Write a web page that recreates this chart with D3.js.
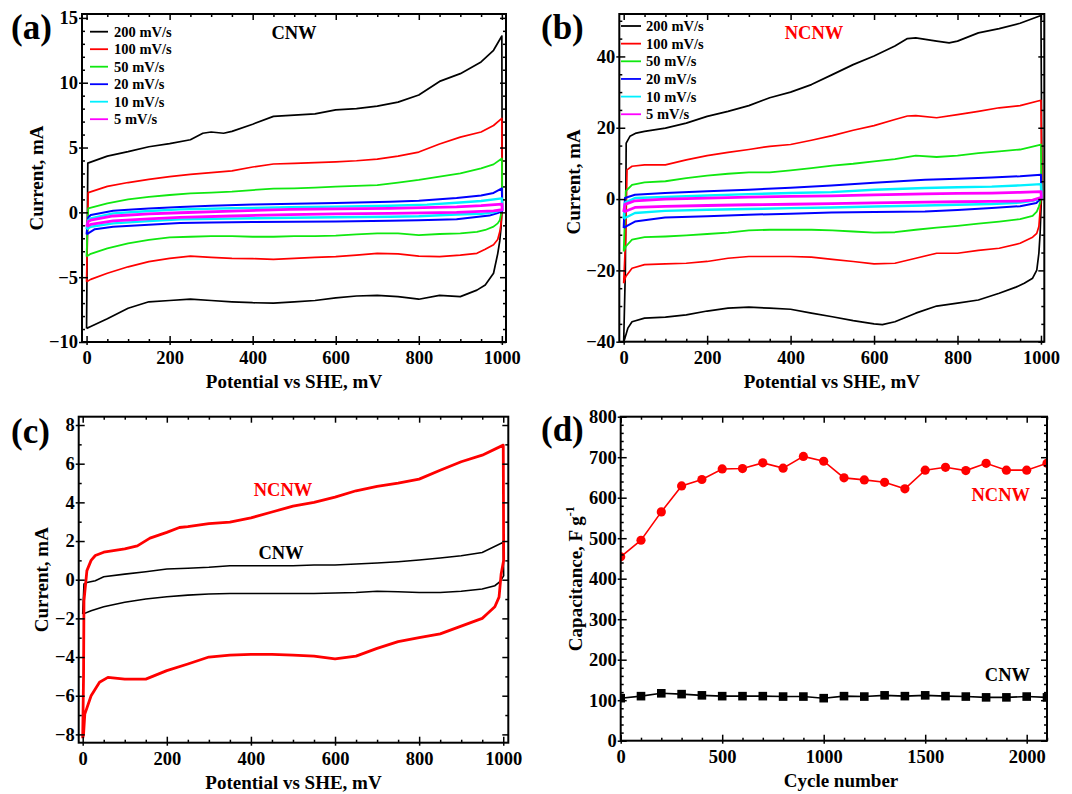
<!DOCTYPE html>
<html>
<head>
<meta charset="utf-8">
<script src="https://cdn.jsdelivr.net/npm/d3@7"></script>
<style>
  body { margin: 0; background: #fff; }
  svg { display: block; }
</style>
</head>
<body>
<script>
// ---------- data ----------
// panel (a): CNW cyclic voltammograms, [mV, mA]
const cnw200 = [[0,-8.95],[3,3.8],[50,4.34],[100,4.68],[150,5.06],[200,5.3],[250,5.6],[280,6.1],[300,6.2],[330,6.1],[350,6.25],[400,6.8],[450,7.4],[500,7.5],[550,7.6],[600,7.9],[650,8.0],[700,8.2],[750,8.5],[800,9.05],[850,10.1],[900,10.7],[950,11.6],[980,12.5],[1000,13.6],[1001,0.5],[998,-1.2],[995,-2.2],[990,-3.2],[980,-4.7],[960,-5.6],[940,-6.0],[900,-6.5],[850,-6.4],[800,-6.7],[750,-6.5],[700,-6.4],[650,-6.45],[600,-6.6],[550,-6.8],[500,-6.9],[450,-7.0],[400,-6.97],[350,-6.9],[300,-6.8],[250,-6.7],[200,-6.8],[150,-6.9],[100,-7.4],[50,-8.2],[10,-8.8],[0,-8.95]];
const cnw100 = [[0,-5.35],[4,1.52],[50,2.0],[100,2.3],[150,2.55],[200,2.75],[250,2.93],[300,3.06],[350,3.2],[400,3.5],[450,3.73],[500,3.78],[550,3.83],[600,3.9],[650,3.98],[700,4.1],[750,4.34],[800,4.65],[850,5.27],[900,5.8],[950,6.2],[980,6.7],[1000,7.25],[1001,0.5],[998,-0.9],[995,-1.5],[990,-2.1],[980,-2.5],[960,-2.85],[940,-3.16],[900,-3.3],[850,-3.42],[800,-3.37],[750,-3.2],[700,-3.16],[650,-3.3],[600,-3.42],[550,-3.47],[500,-3.55],[450,-3.62],[400,-3.57],[350,-3.55],[300,-3.47],[250,-3.37],[200,-3.55],[150,-3.8],[100,-4.2],[50,-4.7],[10,-5.17],[0,-5.35]];
const cnw50 = [[0,-3.4],[4,0.3],[50,0.7],[100,1.0],[150,1.2],[200,1.34],[250,1.47],[300,1.52],[350,1.6],[400,1.72],[450,1.83],[500,1.85],[550,1.9],[600,1.98],[650,2.05],[700,2.1],[750,2.3],[800,2.5],[850,2.75],[900,3.0],[950,3.4],[980,3.7],[1000,4.16],[1001,0.3],[995,-0.6],[990,-0.85],[980,-1.1],[960,-1.36],[940,-1.5],[900,-1.62],[850,-1.67],[800,-1.75],[750,-1.62],[700,-1.62],[650,-1.7],[600,-1.8],[550,-1.83],[500,-1.83],[450,-1.88],[400,-1.88],[350,-1.83],[300,-1.83],[250,-1.88],[200,-1.93],[150,-2.13],[100,-2.4],[50,-2.78],[10,-3.2],[0,-3.4]];
const cnw20 = [[0,-1.7],[4,-0.4],[10,-0.2],[64,0.12],[100,0.2],[150,0.3],[225,0.42],[300,0.5],[400,0.6],[500,0.66],[600,0.72],[731,0.82],[800,0.9],[891,1.1],[950,1.3],[980,1.5],[1000,1.85],[1001,0.1],[990,-0.05],[970,-0.25],[891,-0.54],[800,-0.6],[731,-0.65],[600,-0.7],[500,-0.72],[400,-0.75],[300,-0.78],[225,-0.82],[150,-0.95],[64,-1.11],[20,-1.3],[0,-1.7]];
const cnw10 = [[0,-1.3],[4,-0.6],[10,-0.46],[64,-0.08],[150,0.1],[225,0.23],[350,0.32],[490,0.39],[600,0.44],[731,0.51],[820,0.6],[891,0.74],[950,0.88],[1000,1.08],[1001,0.2],[980,0.0],[950,-0.12],[891,-0.16],[800,-0.3],[731,-0.34],[600,-0.38],[490,-0.42],[350,-0.48],[225,-0.54],[150,-0.68],[64,-0.85],[10,-1.11],[0,-1.3]];
const cnw5 = [[0,-1.1],[4,-0.7],[10,-0.6],[64,-0.28],[150,-0.12],[225,-0.03],[350,0.1],[490,0.23],[600,0.27],[731,0.31],[891,0.43],[950,0.52],[1000,0.64],[1001,0.2],[980,0.12],[891,0.0],[731,-0.08],[600,-0.12],[490,-0.17],[350,-0.28],[225,-0.39],[150,-0.5],[64,-0.65],[10,-0.93],[0,-1.1]];

// panel (b): NCNW cyclic voltammograms, [mV, mA]
const ncnw200 = [[0,-40],[4,-20],[6,15.7],[15,17.6],[30,18.5],[50,19.0],[100,19.9],[150,21.3],[200,23.2],[250,24.6],[300,26.2],[350,28.4],[400,30.0],[450,32.1],[500,34.9],[550,37.7],[600,40.1],[650,42.9],[680,45.0],[700,45.2],[750,44.3],[780,43.8],[800,44.3],[850,46.6],[900,47.8],[950,49.3],[1000,51.5],[1002,10],[1001,0],[998,-9.6],[995,-15.2],[990,-19.9],[980,-22.2],[960,-23.6],[940,-24.7],[900,-26.4],[850,-28.3],[800,-29.2],[750,-30],[700,-32],[650,-34.4],[620,-35.2],[600,-35],[550,-34.1],[500,-33],[450,-32],[400,-30.9],[350,-30.6],[300,-30.3],[250,-30.6],[200,-31.4],[150,-32.5],[100,-33.1],[50,-33.4],[20,-34.4],[10,-36.2],[3,-39],[0,-40]];
const ncnw100 = [[0,-23.6],[5,-10],[8,8.2],[20,9.2],[50,9.6],[100,9.6],[150,11.0],[200,12.2],[250,13.1],[300,13.9],[350,14.8],[400,15.3],[450,16.5],[500,17.8],[550,19.3],[600,20.6],[650,22.3],[680,23.3],[700,23.4],[750,22.8],[800,23.7],[850,24.6],[900,25.6],[950,26.2],[1000,27.7],[1002,5],[1000,0],[995,-7.7],[990,-9.6],[980,-10.7],[950,-12.4],[900,-13.8],[850,-14.4],[800,-15.2],[750,-15.2],[700,-16.6],[650,-18],[600,-18.2],[550,-17.5],[500,-16.9],[450,-16.3],[400,-16.1],[350,-16.1],[300,-16.1],[250,-16.6],[200,-17.5],[150,-18],[100,-18.2],[50,-18.4],[20,-19.4],[5,-21.7],[0,-23.6]];
const ncnw50 = [[0,-14.7],[3,-5],[5,2.2],[20,4.0],[50,4.7],[100,5.0],[150,5.9],[200,6.6],[250,7.1],[300,7.5],[350,7.5],[400,8.05],[450,8.7],[500,9.4],[550,9.9],[600,10.6],[650,11.2],[700,12.2],[750,11.8],[800,12.2],[850,12.9],[900,13.4],[950,13.9],[1000,15.3],[1001,2],[998,-1],[995,-2.1],[990,-3.5],[980,-4.7],[950,-5.6],[900,-6.3],[850,-6.9],[800,-7.5],[750,-8.0],[700,-8.6],[650,-9.3],[600,-9.4],[550,-9.1],[500,-8.8],[450,-8.6],[400,-8.6],[350,-8.6],[300,-8.8],[250,-9.4],[200,-9.8],[150,-10.2],[100,-10.5],[50,-10.7],[20,-11.4],[5,-13.3],[0,-14.7]];
const ncnw20 = [[0,-8.1],[3,0.28],[27,1.2],[99,1.7],[200,2.2],[299,2.6],[400,3.2],[498,3.8],[600,4.6],[722,5.4],[800,5.7],[882,6.05],[950,6.4],[1000,6.8],[1001,0.3],[989,-1.1],[950,-2.0],[882,-2.5],[800,-3.1],[722,-3.5],[600,-3.65],[498,-3.75],[400,-4.1],[299,-4.4],[200,-4.8],[99,-5.2],[27,-6.3],[8,-7.5],[0,-8.1]];
const ncnw10 = [[0,-5.5],[3,-1],[27,0.28],[99,0.56],[200,1.0],[299,1.4],[400,1.7],[498,1.96],[600,2.6],[722,3.1],[800,3.3],[882,3.5],[950,3.85],[1000,4.2],[1001,0.3],[980,-0.5],[950,-1.0],[882,-1.4],[800,-1.6],[722,-1.8],[600,-2.1],[498,-2.35],[400,-2.55],[299,-2.8],[200,-3.0],[99,-3.3],[27,-3.9],[3,-5.3],[0,-5.5]];
const ncnw5 = [[0,-3.6],[3,-1.5],[27,-0.48],[99,0],[200,0.25],[299,0.56],[400,0.75],[498,0.92],[600,1.2],[722,1.48],[800,1.6],[882,1.68],[950,1.9],[1000,2.1],[1001,0.45],[980,-0.3],[950,-0.55],[882,-0.67],[800,-0.75],[722,-0.84],[600,-1.05],[498,-1.3],[400,-1.45],[299,-1.6],[200,-1.8],[99,-2.07],[27,-2.35],[3,-3.5],[0,-3.6]];

// panel (c): comparison, [mV, mA]
const cmpNcnw = [[0,-8.2],[2,-5],[3,-1.1],[10,0.47],[20,1.0],[30,1.25],[50,1.42],[100,1.6],[130,1.75],[160,2.15],[200,2.45],[230,2.7],[250,2.75],[300,2.9],[350,2.98],[400,3.2],[450,3.5],[500,3.8],[550,4.0],[600,4.27],[650,4.6],[700,4.83],[750,5.0],[800,5.2],[850,5.66],[900,6.1],[950,6.44],[1000,6.96],[1001,1],[995,0.3],[990,-0.9],[980,-1.4],[960,-1.8],[950,-2.0],[900,-2.4],[850,-2.8],[800,-3.0],[750,-3.2],[700,-3.55],[650,-3.95],[600,-4.1],[550,-3.95],[500,-3.9],[450,-3.86],[400,-3.86],[350,-3.9],[300,-4.0],[250,-4.36],[200,-4.7],[150,-5.14],[100,-5.14],[60,-5.05],[40,-5.3],[20,-6.0],[5,-6.95],[2,-8.0],[0,-8.2]];
const cmpCnw = [[0,-1.78],[3,-0.22],[10,-0.14],[30,-0.05],[50,0.15],[100,0.29],[150,0.41],[200,0.55],[250,0.59],[300,0.64],[350,0.72],[400,0.72],[450,0.72],[500,0.72],[550,0.76],[600,0.76],[650,0.81],[700,0.86],[750,0.93],[800,1.02],[850,1.12],[900,1.24],[950,1.41],[1000,1.93],[1001,0.2],[995,0],[990,-0.14],[980,-0.31],[950,-0.48],[900,-0.6],[850,-0.66],[800,-0.66],[750,-0.62],[700,-0.6],[650,-0.66],[600,-0.69],[550,-0.71],[500,-0.71],[450,-0.71],[400,-0.71],[350,-0.71],[300,-0.74],[250,-0.8],[200,-0.88],[150,-1.0],[100,-1.17],[50,-1.4],[20,-1.6],[0,-1.78]];

// panel (d): cycling stability
const cycles = [0,100,200,300,400,500,600,700,800,900,1000,1100,1200,1300,1400,1500,1600,1700,1800,1900,2000,2100];
const capNcnw = [454,495,565,629,645,671,672,686,673,702,690,649,644,638,622,668,675,667,685,668,668,685];
const capCnw = [105,110,117,115,112,110,110,110,109,109,105,110,109,112,110,112,110,109,107,107,109,107];

// legend / labels
const rateLabels = ['200 mV/s','100 mV/s','50 mV/s','20 mV/s','10 mV/s','5 mV/s'];
const rateColors = ['#000000','#ff0000','#10e810','#0000ff','#00f0ff','#ff00ff'];
const rateWidths = [1.7,1.7,1.8,2.0,2.4,2.8];

const cvTicksX = [0,200,400,600,800,1000];
const aTicksY = [-10,-5,0,5,10,15];
const bTicksY = [-40,-20,0,20,40];
const cTicksY = [-8,-6,-4,-2,0,2,4,6,8];
const dTicksX = [0,500,1000,1500,2000];
const dTicksY = [0,100,200,300,400,500,600,700,800];

// ---------- drawing ----------
const font = '"Liberation Serif", "Times New Roman", serif';
const svg = d3.select('body').append('svg').attr('width', 1072).attr('height', 794);
const fmt = d3.format('d');

const txt = (x, y, s, size, color, anchor) => svg.append('text')
  .attr('x', x).attr('y', y)
  .attr('font-family', font).attr('font-weight', 'bold')
  .attr('font-size', size).attr('fill', color || '#000')
  .attr('text-anchor', anchor || 'start')
  .text(s);

const drawPanel = (p) => {
  const x = d3.scaleLinear().domain(p.xDomain).range([p.left, p.right]);
  const y = d3.scaleLinear().domain(p.yDomain).range([p.bottom, p.top]);

  svg.append('clipPath').attr('id', 'clip-' + p.id).append('rect')
    .attr('x', p.left).attr('y', p.top)
    .attr('width', p.right - p.left).attr('height', p.bottom - p.top);
  const plot = svg.append('g').attr('clip-path', `url(#clip-${p.id})`);

  // ticks: major + minor, inward on all four sides
  const minorX = p.xMinor.filter(v => !p.xMajor.includes(v));
  const minorY = p.yMinor.filter(v => !p.yMajor.includes(v));
  const add = (axis, tx, ty, labels) => {
    const g = svg.append('g').attr('transform', `translate(${tx},${ty})`).call(axis);
    g.select('.domain').remove();
    g.selectAll('line').attr('stroke', '#000').attr('stroke-width', 1.5);
    if (labels) {
      g.selectAll('text').attr('font-family', font).attr('font-size', 18.5)
        .attr('font-weight', 'bold').attr('fill', '#000');
    } else {
      g.selectAll('text').remove();
    }
  };
  add(d3.axisBottom(x).tickValues(p.xMajor).tickSizeInner(-6).tickSizeOuter(0).tickPadding(9).tickFormat(fmt), 0, p.bottom, true);
  add(d3.axisBottom(x).tickValues(p.xMajor).tickSizeInner(3).tickSizeOuter(0), 0, p.bottom, false);
  add(d3.axisBottom(x).tickValues(minorX).tickSizeInner(-3).tickSizeOuter(0), 0, p.bottom, false);
  add(d3.axisTop(x).tickValues(p.xMajor).tickSizeInner(-6).tickSizeOuter(0), 0, p.top, false);
  add(d3.axisTop(x).tickValues(minorX).tickSizeInner(-3).tickSizeOuter(0), 0, p.top, false);
  add(d3.axisLeft(y).tickValues(p.yMajor).tickSizeInner(-6).tickSizeOuter(0).tickPadding(4).tickFormat(fmt), p.left, 0, true);
  add(d3.axisLeft(y).tickValues(p.yMajor).tickSizeInner(3).tickSizeOuter(0), p.left, 0, false);
  add(d3.axisLeft(y).tickValues(minorY).tickSizeInner(-3).tickSizeOuter(0), p.left, 0, false);
  add(d3.axisRight(y).tickValues(p.yMajor).tickSizeInner(-6).tickSizeOuter(0), p.right, 0, false);
  add(d3.axisRight(y).tickValues(minorY).tickSizeInner(-3).tickSizeOuter(0), p.right, 0, false);

  // axis titles
  txt(p.xTitleX || (p.left + p.right) / 2, p.bottom + 46, p.xTitle, 19, '#000', 'middle');
  const yt = svg.append('text')
    .attr('transform', `translate(${p.yTitleX},${(p.top + p.bottom) / 2 + (p.yTitleDy || 0)}) rotate(-90)`)
    .attr('font-family', font).attr('font-weight', 'bold').attr('font-size', 19)
    .attr('text-anchor', 'middle').text(p.yTitle);
  if (p.yTitleSup) {
    yt.append('tspan').attr('font-size', 12).attr('dy', -8).text(p.yTitleSup);
  }

  // panel letter
  txt(p.letterX, p.letterY, p.letter, 35);

  return { x, y, plot, frame: () => svg.append('rect')
    .attr('x', p.left).attr('y', p.top)
    .attr('width', p.right - p.left).attr('height', p.bottom - p.top)
    .attr('fill', 'none').attr('stroke', '#000').attr('stroke-width', 2) };
};

const cvLine = (x, y) => d3.line().x(d => x(d[0])).y(d => y(d[1]));

// ---- (a)
{
  const pa = drawPanel({ id: 'a', left: 82, right: 506, top: 14, bottom: 342,
    xDomain: [-11, 1010], yDomain: [-10, 15.3],
    xMajor: cvTicksX, xMinor: d3.range(0, 1001, 50), yMajor: aTicksY, yMinor: d3.range(-10, 16, 1),
    xTitle: 'Potential vs SHE, mV', yTitle: 'Current, mA', yTitleX: 43,
    letter: '(a)', letterX: 11, letterY: 39 });
  const line = cvLine(pa.x, pa.y);
  [cnw200, cnw100, cnw50, cnw20, cnw10, cnw5].forEach((s, i) => {
    pa.plot.append('path').attr('d', line(s)).attr('fill', 'none')
      .attr('stroke', rateColors[i]).attr('stroke-width', rateWidths[i]).attr('stroke-linejoin', 'round');
  });
  rateLabels.forEach((lab, i) => {
    const yy = 31.7 + i * 17.5;
    svg.append('line').attr('x1', 90).attr('x2', 108).attr('y1', yy).attr('y2', yy)
      .attr('stroke', rateColors[i]).attr('stroke-width', 1.8);
    txt(114, yy + 5, lab, 14.5);
  });
  txt(294, 39, 'CNW', 18.5, '#000', 'middle');
  pa.frame();
}

// ---- (b)
{
  const pb = drawPanel({ id: 'b', left: 619.3, right: 1044.3, top: 14, bottom: 341.7,
    xDomain: [-10.5, 1008], yDomain: [-40, 51.9],
    xMajor: cvTicksX, xMinor: d3.range(0, 1001, 50), yMajor: bTicksY, yMinor: d3.range(-40, 51, 5),
    xTitle: 'Potential vs SHE, mV', yTitle: 'Current, mA', yTitleX: 580, yTitleDy: 4,
    letter: '(b)', letterX: 541, letterY: 39 });
  const line = cvLine(pb.x, pb.y);
  [ncnw200, ncnw100, ncnw50, ncnw20, ncnw10, ncnw5].forEach((s, i) => {
    pb.plot.append('path').attr('d', line(s)).attr('fill', 'none')
      .attr('stroke', rateColors[i]).attr('stroke-width', rateWidths[i]).attr('stroke-linejoin', 'round');
  });
  rateLabels.forEach((lab, i) => {
    const yy = 26 + i * 17.65;
    svg.append('line').attr('x1', 621).attr('x2', 641).attr('y1', yy).attr('y2', yy)
      .attr('stroke', rateColors[i]).attr('stroke-width', 1.8);
    txt(646, yy + 5, lab, 14.5);
  });
  txt(814, 39, 'NCNW', 18.5, '#ff0000', 'middle');
  pb.frame();
}

// ---- (c)
{
  const pc = drawPanel({ id: 'c', left: 78.7, right: 508.3, top: 416.7, bottom: 742.7,
    xDomain: [-9.5, 1012], yDomain: [-8.43, 8.43],
    xMajor: cvTicksX, xMinor: d3.range(0, 1001, 50), yMajor: cTicksY, yMinor: d3.range(-8, 9, 1),
    xTitle: 'Potential vs SHE, mV', yTitle: 'Current, mA', yTitleX: 48,
    letter: '(c)', letterX: 11, letterY: 443 });
  const line = cvLine(pc.x, pc.y);
  pc.plot.append('path').attr('d', line(cmpCnw)).attr('fill', 'none')
    .attr('stroke', '#000').attr('stroke-width', 1.6);
  pc.plot.append('path').attr('d', line(cmpNcnw)).attr('fill', 'none')
    .attr('stroke', '#ff0000').attr('stroke-width', 2.8).attr('stroke-linejoin', 'round');
  txt(283, 496, 'NCNW', 18.5, '#ff0000', 'middle');
  txt(281, 559, 'CNW', 18.5, '#000', 'middle');
  pc.frame();
}

// ---- (d)
{
  const pd = drawPanel({ id: 'd', left: 620.7, right: 1047, top: 416.7, bottom: 740.7,
    xDomain: [0, 2100], yDomain: [0, 800],
    xMajor: dTicksX, xMinor: d3.range(0, 2101, 100), yMajor: dTicksY, yMinor: d3.range(0, 801, 20),
    xTitle: 'Cycle number', xTitleX: 841, yTitle: 'Capacitance, F g', yTitleSup: '-1', yTitleX: 582,
    letter: '(d)', letterX: 541, letterY: 441 });
  const ncnw = cycles.map((c, i) => [c, capNcnw[i]]);
  const cnw = cycles.map((c, i) => [c, capCnw[i]]);
  const line = cvLine(pd.x, pd.y);
  pd.plot.append('path').attr('d', line(ncnw)).attr('fill', 'none')
    .attr('stroke', '#ff0000').attr('stroke-width', 1.6);
  pd.plot.append('path').attr('d', line(cnw)).attr('fill', 'none')
    .attr('stroke', '#000').attr('stroke-width', 1.6);
  pd.plot.selectAll('.pt-n').data(ncnw).enter().append('circle')
    .attr('cx', d => pd.x(d[0])).attr('cy', d => pd.y(d[1])).attr('r', 4.6).attr('fill', '#ff0000');
  pd.plot.selectAll('.pt-c').data(cnw).enter().append('rect')
    .attr('x', d => pd.x(d[0]) - 4.3).attr('y', d => pd.y(d[1]) - 4.3)
    .attr('width', 8.6).attr('height', 8.6).attr('fill', '#000');
  txt(1030, 501, 'NCNW', 18.5, '#ff0000', 'end');
  txt(1030, 681, 'CNW', 18.5, '#000', 'end');
  pd.frame();
}
</script>
</body>
</html>
